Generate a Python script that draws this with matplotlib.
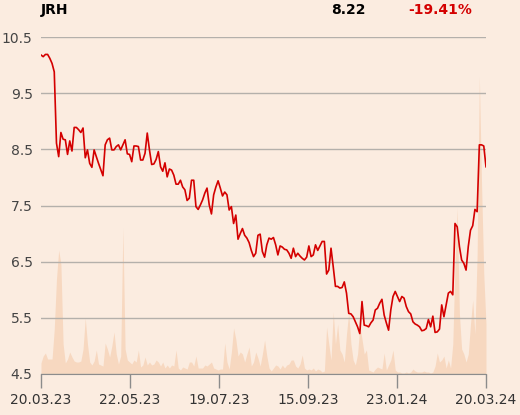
import numpy as np
import matplotlib
matplotlib.use("Agg")
import matplotlib.pyplot as plt

# closing prices (one value per trading day shown)
price = [
    10.18, 10.15, 10.19, 10.19, 10.12, 10.03, 9.88, 8.61, 8.37, 8.80, 8.68, 8.67, 8.41, 8.65, 8.47, 8.89,
    8.89, 8.85, 8.80, 8.88, 8.35, 8.49, 8.25, 8.18, 8.49, 8.37, 8.25, 8.14, 8.03, 8.58, 8.67, 8.70,
    8.49, 8.49,
    8.55, 8.58, 8.49, 8.58, 8.67, 8.42, 8.41, 8.28, 8.56, 8.56, 8.55, 8.31, 8.31, 8.43, 8.79, 8.49,
    8.23, 8.24, 8.32, 8.46, 8.19, 8.11, 8.26, 8.01, 8.15, 8.13, 8.04, 7.88, 7.88, 7.95, 7.83, 7.78,
    7.59, 7.63,
    7.95, 7.95, 7.48, 7.43, 7.51, 7.60, 7.72, 7.81, 7.51, 7.35, 7.69, 7.83, 7.94, 7.81, 7.67, 7.74,
    7.69, 7.42, 7.48, 7.18, 7.33, 6.90, 7.00, 7.09, 6.97, 6.92, 6.84, 6.70, 6.59, 6.65, 6.97, 6.99,
    6.68, 6.58,
    6.80, 6.92, 6.90, 6.93, 6.80, 6.62, 6.78, 6.76, 6.72, 6.71, 6.65, 6.56, 6.74, 6.59, 6.65, 6.60,
    6.56, 6.53, 6.58, 6.78, 6.59, 6.62, 6.80, 6.70, 6.78, 6.86, 6.86, 6.28, 6.35, 6.74, 6.41, 6.06,
    6.06, 6.03,
    6.04, 6.14, 5.94, 5.58, 5.57, 5.52, 5.43, 5.34, 5.22, 5.79, 5.37, 5.36, 5.34, 5.41, 5.46,
    5.64, 5.67, 5.76, 5.83, 5.55, 5.41, 5.28, 5.64, 5.88, 5.97, 5.88, 5.79, 5.88, 5.85, 5.70, 5.61,
    5.57, 5.43, 5.39, 5.37,
    5.34, 5.27, 5.28, 5.31, 5.47, 5.34, 5.53, 5.24, 5.25, 5.30, 5.73, 5.52, 5.73, 5.94, 5.97,
    5.91, 7.18, 7.12, 6.77, 6.53, 6.47, 6.35, 6.77, 7.06, 7.14, 7.43, 7.39, 8.58, 8.58, 8.56,
    8.19,
]

# traded volume (relative units), same days as price
volume = [
    11, 18, 21, 15, 15, 15, 45, 95, 124, 110, 30, 11, 15, 22, 17, 13,
    12, 12, 13, 25, 56, 30, 12, 9, 13, 24, 10, 9, 8, 31, 25, 17,
    28, 42,
    20, 10, 18, 146, 25, 14, 12, 10, 14, 12, 24, 7, 9, 17, 9, 12,
    9, 10, 14, 12, 8, 12, 6, 9, 6, 9, 8, 24, 6, 4, 7, 6,
    5, 12,
    12, 8, 18, 6, 6, 6, 9, 8, 10, 12, 6, 5, 4, 5, 5, 31,
    12, 5, 22, 46, 35, 18, 22, 20, 12, 20, 27, 8, 12, 22, 16, 8,
    20, 34,
    18, 6, 3, 6, 9, 8, 5, 9, 6, 9, 10, 14, 14, 8, 6, 10,
    19, 6, 4, 5, 4, 6, 3, 5, 4, 2, 3, 47, 30, 14, 62, 30,
    50, 24,
    20, 12, 40, 62, 30, 14, 9, 20, 48, 35, 20, 24, 4, 3, 2,
    5, 7, 6, 5, 21, 4, 9, 14, 24, 4, 2, 2, 1, 1, 2, 1,
    2, 5, 3, 2,
    2, 2, 3, 2, 2, 1, 2, 8, 21, 12, 14, 18, 6, 14, 6,
    30, 110, 166, 60, 25, 20, 12, 20, 50, 74, 40, 120, 298, 190, 100,
    50,
]

date_labels = ["20.03.23", "22.05.23", "19.07.23", "15.09.23", "23.01.24", "20.03.24"]
y_ticks = [4.5, 5.5, 6.5, 7.5, 8.5, 9.5, 10.5]

ticker = "JRH"
last_price = "8.22"
change = "-19.41%"

bg = "#fbece0"
red = "#d40000"

x = np.arange(len(price))

fig = plt.figure(figsize=(5.2, 4.15), dpi=100, facecolor=bg)
ax = fig.add_axes([0.0788, 0.0988, 0.8558, 0.812])
ax2 = ax.twinx()

# volume sits behind the price axis
ax.set_zorder(2)
ax.patch.set_visible(False)
ax2.set_zorder(1)
ax2.set_facecolor(bg)

ax2.fill_between(x, 0, volume, color="#f7d6bd", alpha=0.9, lw=0)
ax2.set_ylim(0, 337)
ax2.set_yticks([])
for s in ax2.spines.values():
    s.set_visible(False)

ax.plot(x, price, color=red, lw=1.2)
ax.set_xlim(0, len(price) - 1)
ax.set_ylim(4.5, 10.5)
ax.set_yticks(y_ticks)
ax.set_yticklabels([f"{v:.1f}" for v in y_ticks])
ax.grid(axis="y", color="#b4b0ab", lw=1)
ax.set_axisbelow(True)

ax.set_xticks(np.linspace(0, len(price) - 1, len(date_labels)))
ax.set_xticklabels(date_labels)

for side in ["top", "right", "left"]:
    ax.spines[side].set_visible(False)
ax.spines["bottom"].set_color("#8c8c8c")
ax.tick_params(axis="x", length=10, width=1, color="#8c8c8c", pad=4, labelsize=10, labelcolor="#333333")
ax.tick_params(axis="y", length=0, pad=6, labelsize=10, labelcolor="#444444")

fig.text(0.0788, 0.975, ticker, fontsize=10, fontweight="bold", va="center", ha="left", color="black")
fig.text(0.703, 0.975, last_price, fontsize=10, fontweight="bold", va="center", ha="right", color="black")
fig.text(0.908, 0.975, change, fontsize=10, fontweight="bold", va="center", ha="right", color=red)

fig.savefig("out.png", dpi=100, facecolor=bg)
